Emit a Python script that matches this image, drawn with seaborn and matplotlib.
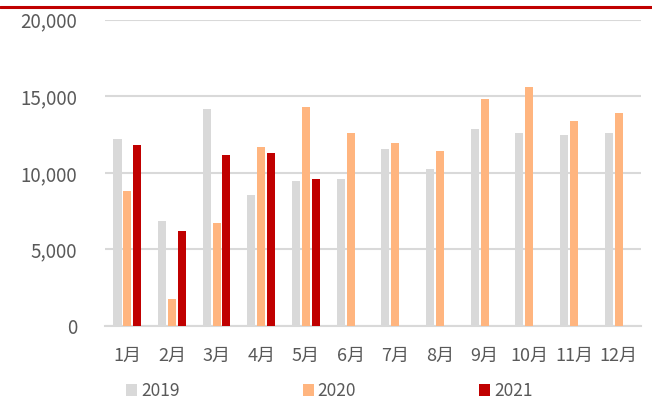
import matplotlib
matplotlib.use("Agg")
import matplotlib.pyplot as plt
import seaborn as sns
import pandas as pd
import numpy as np
from matplotlib.lines import Line2D
from matplotlib.ticker import FuncFormatter

months = ['1月', '2月', '3月', '4月', '5月', '6月', '7月', '8月', '9月', '10月', '11月', '12月']
years = ['2019', '2020', '2021']
vals_2019 = [12200, 6880, 14170, 8550, 9470, 9600, 11560, 10250, 12860, 12600, 12470, 12600]
vals_2020 = [8800, 1760, 6730, 11690, 14300, 12600, 11950, 11430, 14820, 15600, 13390, 13910]
vals_2021 = [11820, 6200, 11170, 11300, 9600, np.nan, np.nan, np.nan, np.nan, np.nan, np.nan, np.nan]
colors = ['#d9d9d9', '#ffb57f', '#c00000']

rows = []
for yr, series in zip(years, [vals_2019, vals_2020, vals_2021]):
    for m, v in zip(months, series):
        rows.append({'month': m, 'year': yr, 'value': v})
df = pd.DataFrame(rows)

sns.set_theme(style='white')
plt.rcParams['font.family'] = ['Noto Sans CJK SC', 'DejaVu Sans']
txt = '#595959'

fig = plt.figure(figsize=(6.52, 4.01), dpi=100)
ax = fig.add_axes([0.161, 0.187, 0.822, 0.764])

sns.barplot(data=df, x='month', y='value', hue='year', order=months, hue_order=years,
            palette=colors, saturation=1, width=0.66, gap=0.18, errorbar=None,
            linewidth=0, ax=ax, zorder=3)

ax.set_ylim(0, 20000)
ax.set_yticks([0, 5000, 10000, 15000, 20000])
ax.yaxis.set_major_formatter(FuncFormatter(lambda v, p: f'{int(v):,}'))
ax.grid(axis='y', color='#d9d9d9', lw=1.5, zorder=0)
ax.set_axisbelow(True)
for s in ['top', 'right', 'left']:
    ax.spines[s].set_visible(False)
ax.spines['bottom'].set_color('#d9d9d9')
ax.spines['bottom'].set_linewidth(1.5)
ax.set_xlabel('')
ax.set_ylabel('')
ax.tick_params(axis='y', length=0, pad=20, labelsize=13.5, labelcolor=txt)
ax.tick_params(axis='x', length=0, pad=15, labelsize=13, labelcolor=txt)
ax.set_xlim(-0.5, 11.5)

handles, labels = ax.get_legend_handles_labels()
ax.get_legend().remove()
fig.legend(handles, labels, loc='center', bbox_to_anchor=(0.505, 0.025), ncol=3,
           frameon=False, fontsize=12.5, labelcolor=txt, handlelength=0.65,
           handleheight=0.65, handletextpad=0.2, columnspacing=7.1)

fig.add_artist(Line2D([0, 1], [0.982, 0.982], color='#c00000', lw=2.2,
                      transform=fig.transFigure))

fig.savefig('out.png', dpi=100)
